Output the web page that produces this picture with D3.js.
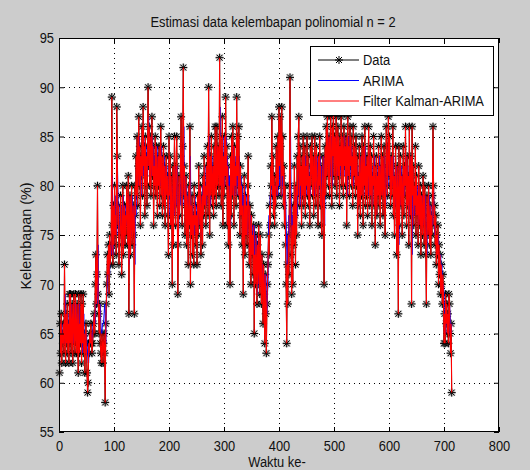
<!DOCTYPE html>
<html>
<head>
<meta charset="utf-8">
<script src="https://cdn.jsdelivr.net/npm/d3@7"></script>
<style>
  body { margin: 0; background: #cccccc; }
  svg { display: block; font-family: "Liberation Sans", Arial, sans-serif; }
</style>
</head>
<body>
<svg id="chart" width="530" height="470"></svg>
<script>
// measured humidity (%) per time step
const humidity = [
  61,66,63,67,62,65,64,66,63,72, 65,62,67,64,68,63,66,62,69,64,
  69,63,65,68,62,66,69,64,63,69, 65,63,68,64,61,69,63,66,64,69,
  62,68,64,69,63,65,61,64,66,63, 61,59,60,64,63,65,64,66,64,63,
  64,65,66,67,65,70,73,68,71,80, 69,67,65,68,64,63,62,65,64,62,
  64,65,63,58,66,68,70,73,71,74, 69,75,72,73,74,89,76,72,78,74,
  80,75,77,73,88,83,76,78,72,74, 76,79,75,71,77,80,73,76,78,74,
  77,75,80,78,74,81,67,76,79,73, 77,80,74,76,78,75,67,80,77,83,
  79,85,78,82,87,80,84,76,83,81, 86,79,88,82,84,77,85,80,83,78,
  84,90,82,86,80,85,79,83,87,81, 84,76,82,80,85,79,84,81,77,83,
  80,84,78,82,86,79,83,77,81,84, 78,82,76,80,83,79,81,77,73,85,
  79,83,76,81,77,70,82,74,80,85, 78,76,82,85,80,69,74,81,77,79,
  83,87,80,76,84,92,79,82,75,78, 81,74,79,77,72,80,76,86,70,78,
  75,79,73,77,72,80,76,78,74,77, 72,79,75,82,78,76,80,73,77,79,
  74,81,77,83,78,80,76,82,79,84, 77,90,81,75,83,79,85,80,78,82,
  77,84,79,86,81,78,86,80,84,82, 79,93,80,85,78,82,87,76,83,79,
  85,81,89,80,84,76,82,74,80,78, 70,83,77,85,79,86,81,76,84,80,
  82,78,89,81,85,79,86,80,75,82, 77,80,74,78,69,76,81,73,79,75,
  78,74,80,83,76,72,78,74,70,77, 73,75,71,76,65,73,70,75,72,68,
  74,70,76,72,69,75,71,68,73,70, 66,72,69,64,71,67,63,68,70,72,
  75,73,78,76,82,80,87,79,83,77, 81,76,80,78,84,81,79,85,80,88,
  82,87,84,79,88,81,85,78,82,76, 80,74,70,64,72,68,75,71,80,91,
  79,73,69,76,70,78,74,82,77,72, 80,75,83,79,85,87,78,84,80,82,
  76,83,79,85,78,81,84,77,82,80, 85,79,83,78,81,76,84,80,82,85,
  79,83,77,81,85,80,78,84,82,79, 76,83,80,85,78,82,76,75,80,83,
  78,70,82,84,79,86,81,87,83,80, 85,79,84,87,82,78,86,83,88,81,
  85,80,84,87,79,83,86,81,85,78, 84,82,87,80,85,83,79,86,82,84,
  80,85,76,83,87,81,84,79,86,82, 85,80,83,78,86,81,84,82,79,85,
  80,83,75,81,78,84,80,77,83,79, 85,81,76,84,80,86,78,82,79,83,
  77,82,86,80,78,84,79,83,76,81, 80,85,78,82,74,80,83,77,81,79,
  84,78,82,76,80,85,79,83,77,81, 84,78,75,80,86,82,79,84,87,81,
  85,80,78,83,79,82,86,77,81,75, 80,84,78,73,82,79,67,84,76,80,
  83,78,81,75,79,84,77,82,80,86, 79,76,83,78,81,74,86,80,77,83,
  68,86,79,82,76,80,78,84,75,81, 77,79,74,82,78,76,80,73,79,77,
  75,81,78,74,80,76,73,68,79,77, 75,80,76,74,78,73,77,75,79,86,
  80,76,78,74,77,72,75,73,76,70, 74,71,73,69,72,70,68,71,69,64,
  67,64,69,66,68,65,67,64,69,68, 65,63,66,59
];

// ARIMA one-step estimates
const arima = [
  64,63,66,64,66,64,65,65,66,64, 69,65,64,66,65,67,64,66,64,67,
  65,68,65,66,67,64,66,68,65,65, 68,66,65,67,65,64,68,65,66,65,
  67,63,66,64,67,64,65,63,64,65, 64,63,62,62,64,64,65,64,65,64,
  65,66,66,67,67,66,69,70,68,69, 74,68,67,66,68,66,65,65,66,66,
  66,67,68,67,64,68,69,70,72,71, 74,71,74,73,73,74,81,75,73,76,
  76,79,76,77,75,83,80,77,78,75, 76,77,78,76,74,77,79,75,77,78,
  76,77,76,79,78,76,79,72,77,78, 75,77,79,76,77,78,76,72,79,77,
  83,81,84,80,82,85,81,83,79,83, 82,84,81,85,82,83,80,84,81,83,
  81,84,87,83,85,82,84,81,83,85, 82,84,80,83,82,84,81,84,82,80,
  82,81,83,80,82,84,80,82,79,81, 83,80,82,79,81,82,80,81,79,77,
  82,79,81,78,80,78,75,81,77,80, 82,79,78,81,82,80,74,77,80,78,
  79,81,83,80,78,82,86,79,81,77, 79,80,77,79,78,76,80,78,83,75,
  78,76,78,75,77,75,79,77,78,76, 77,75,78,76,80,78,77,79,75,77,
  80,77,81,79,82,79,80,78,81,80, 82,79,85,81,78,82,80,83,80,79,
  82,80,83,81,84,82,80,84,81,83, 82,81,88,81,84,80,82,85,79,83,
  80,83,81,85,81,83,79,82,78,81, 80,76,82,79,83,80,84,81,79,83,
  80,81,79,84,80,82,79,83,80,77, 81,78,80,77,79,74,78,80,76,79,
  75,77,75,78,79,76,74,77,75,73, 76,74,75,73,76,70,74,73,75,74,
  69,72,70,73,71,70,73,71,69,72, 70,68,71,70,67,71,69,67,69,70,
  76,77,76,79,78,81,80,83,79,81, 78,80,78,80,79,82,80,79,82,80,
  83,80,83,81,79,83,80,82,78,80, 77,79,76,74,71,75,73,77,75,79,
  85,79,76,74,77,74,78,76,80,78, 75,79,77,81,79,82,83,78,81,79,
  82,79,82,80,83,80,81,83,79,82, 81,83,80,82,80,81,79,83,81,82,
  83,80,82,79,81,83,81,80,83,82, 80,79,82,81,83,80,82,79,78,81,
  83,80,76,82,83,81,84,82,85,83, 81,84,81,83,85,82,80,84,83,85,
  82,84,82,84,85,81,83,85,82,84, 81,84,83,85,82,84,83,81,85,83,
  83,81,84,79,83,85,82,83,81,84, 82,84,81,83,80,84,82,83,82,81,
  83,81,82,78,81,80,83,81,79,82, 80,83,81,79,83,81,84,80,82,80,
  82,79,81,83,80,79,82,80,82,78, 81,80,83,79,81,77,80,82,79,81,
  80,83,80,82,79,81,83,80,82,79, 81,83,80,78,81,84,82,80,83,84,
  81,83,80,79,82,80,81,83,79,81, 78,80,82,79,77,81,80,74,82,78,
  80,82,79,81,78,80,82,79,81,80, 83,80,78,82,79,81,77,83,80,79,
  81,73,82,79,80,77,79,78,81,77, 80,78,79,76,80,78,77,79,76,79,
  77,76,79,78,76,79,77,75,73,78, 77,76,79,77,76,78,75,77,76,78,
  80,77,75,76,74,75,73,74,73,75, 71,73,72,73,70,72,70,69,70,69,
  65,67,65,68,66,67,66,67,65,68, 67,66,65,66
];

// Kalman-filtered ARIMA estimates
const kalman = [
  61,66,63,67,62,65,64,66,63,72, 65,62,67,64,68,63,66,62,69,64,
  69,63,65,68,62,66,69,64,63,69, 65,63,68,64,61,69,63,66,64,69,
  62,68,64,69,63,65,61,64,66,63, 61,59,60,64,63,65,64,66,64,63,
  64,65,66,67,65,70,73,68,71,80, 69,67,65,68,64,63,62,65,64,62,
  64,65,63,58,66,68,70,73,71,74, 69,75,72,73,74,89,76,72,78,74,
  80,75,77,73,88,83,76,78,72,74, 76,79,75,71,77,80,73,76,78,74,
  77,75,80,78,74,81,67,76,79,73, 77,80,74,76,78,75,67,80,77,83,
  79,85,78,82,87,80,84,76,83,81, 86,79,88,82,84,77,85,80,83,78,
  84,90,82,86,80,85,79,83,87,81, 84,76,82,80,85,79,84,81,77,83,
  80,84,78,82,86,79,83,77,81,84, 78,82,76,80,83,79,81,77,73,85,
  79,83,76,81,77,70,82,74,80,85, 78,76,82,85,80,69,74,81,77,79,
  83,87,80,76,84,92,79,82,75,78, 81,74,79,77,72,80,76,86,70,78,
  75,79,73,77,72,80,76,78,74,77, 72,79,75,82,78,76,80,73,77,79,
  74,81,77,83,78,80,76,82,79,84, 77,90,81,75,83,79,85,80,78,82,
  77,84,79,86,81,78,86,80,84,82, 79,93,80,85,78,82,87,76,83,79,
  85,81,89,80,84,76,82,74,80,78, 70,83,77,85,79,86,81,76,84,80,
  82,78,89,81,85,79,86,80,75,82, 77,80,74,78,69,76,81,73,79,75,
  78,74,80,83,76,72,78,74,70,77, 73,75,71,76,65,73,70,75,72,68,
  74,70,76,72,69,75,71,68,73,70, 66,72,69,64,71,67,63,68,70,72,
  75,73,78,76,82,80,87,79,83,77, 81,76,80,78,84,81,79,85,80,88,
  82,87,84,79,88,81,85,78,82,76, 80,74,70,64,72,68,75,71,80,91,
  79,73,69,76,70,78,74,82,77,72, 80,75,83,79,85,87,78,84,80,82,
  76,83,79,85,78,81,84,77,82,80, 85,79,83,78,81,76,84,80,82,85,
  79,83,77,81,85,80,78,84,82,79, 76,83,80,85,78,82,76,75,80,83,
  78,70,82,84,79,86,81,87,83,80, 85,79,84,87,82,78,86,83,88,81,
  85,80,84,87,79,83,86,81,85,78, 84,82,87,80,85,83,79,86,82,84,
  80,85,76,83,87,81,84,79,86,82, 85,80,83,78,86,81,84,82,79,85,
  80,83,75,81,78,84,80,77,83,79, 85,81,76,84,80,86,78,82,79,83,
  77,82,86,80,78,84,79,83,76,81, 80,85,78,82,74,80,83,77,81,79,
  84,78,82,76,80,85,79,83,77,81, 84,78,75,80,86,82,79,84,87,81,
  85,80,78,83,79,82,86,77,81,75, 80,84,78,73,82,79,67,84,76,80,
  83,78,81,75,79,84,77,82,80,86, 79,76,83,78,81,74,86,80,77,83,
  68,86,79,82,76,80,78,84,75,81, 77,79,74,82,78,76,80,73,79,77,
  75,81,78,74,80,76,73,68,79,77, 75,80,76,74,78,73,77,75,79,86,
  80,76,78,74,77,72,75,73,76,70, 74,71,73,69,72,70,68,71,69,64,
  67,64,69,66,68,65,67,64,69,68, 65,63,66,59
];

const xTicks = [0, 100, 200, 300, 400, 500, 600, 700, 800];
const yTicks = [55, 60, 65, 70, 75, 80, 85, 90, 95];
const legendLabels = ["Data", "ARIMA", "Filter Kalman-ARIMA"];
const legendColors = ["#000000", "#0000ff", "#ff0000"];

const svg = d3.select("#chart");
const margin = { top: 38, right: 31, bottom: 38, left: 59 };
const width = 530 - margin.left - margin.right;
const height = 470 - margin.top - margin.bottom;
const sx = 0.86; // text in the reference is squeezed sideways

const x = d3.scaleLinear().domain([0, 800]).range([0, width]);
const y = d3.scaleLinear().domain([55, 95]).range([height, 0]);

const g = svg.append("g").attr("transform", `translate(${margin.left},${margin.top})`);

g.append("rect").attr("width", width).attr("height", height).attr("fill", "#fff");

// dotted grid
g.append("g").selectAll("line").data(xTicks.slice(1, -1)).join("line")
  .attr("x1", d => Math.round(x(d)) + 0.5).attr("x2", d => Math.round(x(d)) + 0.5)
  .attr("y1", 0).attr("y2", height)
  .attr("stroke", "#000").attr("stroke-dasharray", "1,4");
g.append("g").selectAll("line").data(yTicks.slice(1, -1)).join("line")
  .attr("y1", d => Math.round(y(d)) + 0.5).attr("y2", d => Math.round(y(d)) + 0.5)
  .attr("x1", 0).attr("x2", width)
  .attr("stroke", "#000").attr("stroke-dasharray", "1,4");

const lineOf = arr => d3.line().x((d, i) => x(i + 1)).y(d => y(d))(arr);
const star = "M-4,0H4M0,-4V4M-3,-3L3,3M-3,3L3,-3";

// data: black line with asterisks
g.append("path").attr("d", lineOf(humidity))
  .attr("fill", "none").attr("stroke", "#000").attr("stroke-width", 1);
const marks = g.append("g");
marks.selectAll("path.halo").data(humidity).join("path").attr("class", "halo")
  .attr("transform", (d, i) => `translate(${x(i + 1)},${y(d)})`)
  .attr("d", star).attr("stroke", "#888").attr("stroke-width", 2.2).attr("opacity", 0.45);
marks.selectAll("path.mk").data(humidity).join("path").attr("class", "mk")
  .attr("transform", (d, i) => `translate(${x(i + 1)},${y(d)})`)
  .attr("d", star).attr("stroke", "#000").attr("stroke-width", 1);

g.append("path").attr("d", lineOf(arima))
  .attr("fill", "none").attr("stroke", "#0000ff").attr("stroke-width", 1);
g.append("path").attr("d", lineOf(kalman))
  .attr("fill", "none").attr("stroke", "#ff0000").attr("stroke-width", 1.1);

// axes, ticks pointing inward like MATLAB
function styleAxis(sel) {
  sel.select(".domain").remove();
  sel.selectAll("line").attr("stroke", "#000");
  sel.attr("font-size", 15).attr("font-family", null);
  sel.selectAll("text").attr("fill", "#111");
}
const xAxis = g.append("g").attr("transform", `translate(0,${height})`)
  .call(d3.axisBottom(x).tickValues(xTicks).tickSizeInner(-5).tickSizeOuter(0).tickPadding(8));
styleAxis(xAxis);
xAxis.selectAll("text").attr("transform", `scale(${sx},1)`);

const yAxis = g.append("g")
  .call(d3.axisLeft(y).tickValues(yTicks).tickSizeInner(-5).tickSizeOuter(0).tickPadding(5));
styleAxis(yAxis);
yAxis.selectAll("text").attr("transform", `scale(${sx},1)`).attr("x", -5 / sx);

const topAxis = g.append("g")
  .call(d3.axisTop(x).tickValues(xTicks).tickSizeInner(-5).tickSizeOuter(0).tickFormat(() => ""));
styleAxis(topAxis);
const rightAxis = g.append("g").attr("transform", `translate(${width},0)`)
  .call(d3.axisRight(y).tickValues(yTicks).tickSizeInner(-5).tickSizeOuter(0).tickFormat(() => ""));
styleAxis(rightAxis);

g.append("rect").attr("x", 0.5).attr("y", 0.5).attr("width", width - 1).attr("height", height - 1)
  .attr("fill", "none").attr("stroke", "#000");

// title and axis labels
svg.append("text").attr("transform", `translate(273,27) scale(${sx},1)`)
  .attr("text-anchor", "middle").attr("font-size", 15).attr("fill", "#111")
  .text("Estimasi data kelembapan polinomial n = 2");
svg.append("text").attr("transform", `translate(277,467) scale(${sx},1)`)
  .attr("text-anchor", "middle").attr("font-size", 15).attr("fill", "#111")
  .text("Waktu ke-");
svg.append("text").attr("transform", "translate(31,236) rotate(-90)")
  .attr("text-anchor", "middle").attr("font-size", 14.4).attr("fill", "#111")
  .text("Kelembapan (%)");

// legend
const legend = svg.append("g").attr("transform", "translate(310,46)");
legend.append("rect").attr("x", 0.5).attr("y", 0.5).attr("width", 183).attr("height", 69)
  .attr("fill", "#fff").attr("stroke", "#000");
const items = legend.selectAll("g.item").data(legendLabels).join("g").attr("class", "item")
  .attr("transform", (d, i) => `translate(0,${14 + i * 20.5})`);
items.append("line").attr("x1", 8).attr("x2", 49).attr("stroke", (d, i) => legendColors[i]);
items.filter((d, i) => i === 0).append("path").attr("transform", "translate(29,0)")
  .attr("d", star).attr("stroke", "#000");
items.append("text").attr("transform", `translate(53,5) scale(${sx},1)`)
  .attr("font-size", 15).attr("fill", "#111").text(d => d);
</script>
</body>
</html>
